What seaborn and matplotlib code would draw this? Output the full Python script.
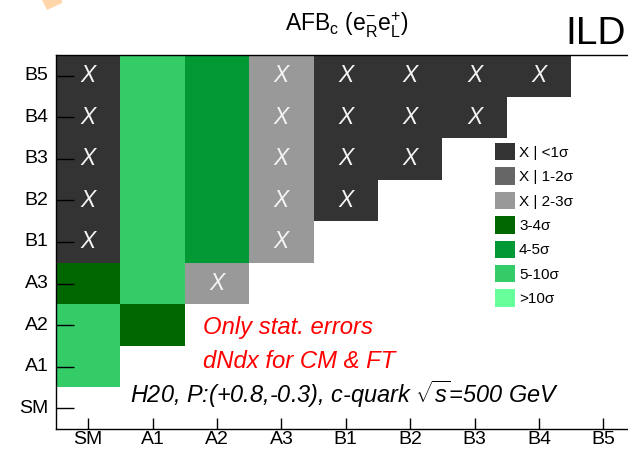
import numpy as np
import pandas as pd
import matplotlib
matplotlib.use("Agg")
import matplotlib.pyplot as plt
from matplotlib.colors import ListedColormap
from matplotlib.patches import Patch, Polygon
import seaborn as sns

# Models compared (columns) and tested against (rows, listed bottom to top)
x_labels = ["SM", "A1", "A2", "A3", "B1", "B2", "B3", "B4", "B5"]
y_labels = ["SM", "A1", "A2", "A3", "B1", "B2", "B3", "B4", "B5"]

# Separation classes and their colours
class_labels = ["X | <1σ", "X | 1-2σ", "X | 2-3σ", "3-4σ", "4-5σ", "5-10σ", ">10σ"]
class_colors = ["#333333", "#666666", "#999999", "#006600", "#009933", "#33cc66", "#66ff99"]
n_unresolved = 3  # the first classes cannot be separated -> "X"

# Separation class per row model, one entry per column model
sig_SM = []
sig_A1 = [5]
sig_A2 = [5, 3]
sig_A3 = [3, 5, 2]
sig_B1 = [0, 5, 4, 2]
sig_B2 = [0, 5, 4, 2, 0]
sig_B3 = [0, 5, 4, 2, 0, 0]
sig_B4 = [0, 5, 4, 2, 0, 0, 0]
sig_B5 = [0, 5, 4, 2, 0, 0, 0, 0]

rows = [sig_SM, sig_A1, sig_A2, sig_A3, sig_B1, sig_B2, sig_B3, sig_B4, sig_B5]

plt.rcParams["font.family"] = ["Liberation Sans", "DejaVu Sans"]
plt.rcParams["mathtext.fontset"] = "custom"
plt.rcParams["mathtext.rm"] = "Liberation Sans"
plt.rcParams["mathtext.it"] = "Liberation Sans:italic"

n = len(x_labels)
mat = np.full((n, n), np.nan)
for i, r in enumerate(rows):
    mat[i, :len(r)] = r
# heatmap draws the first row on top
mat = mat[::-1]
df = pd.DataFrame(mat, index=y_labels[::-1], columns=x_labels)
annot = np.where(np.nan_to_num(mat, nan=99) < n_unresolved, "X", "")

fig = plt.figure(figsize=(6.28, 4.5), dpi=100)
W, H = 628, 450
ax = fig.add_axes([56 / W, (H - 429) / H, 579.6 / W, (429 - 55) / H])

cmap = ListedColormap(class_colors)
sns.heatmap(df, ax=ax, cmap=cmap, vmin=-0.5, vmax=len(class_colors) - 0.5,
            cbar=False, annot=annot, fmt="", linewidths=0,
            annot_kws={"color": "#f4f4f4", "fontsize": 16.5, "fontstyle": "italic"})

for s in ["left", "bottom", "top", "right"]:
    ax.spines[s].set_visible(True)
    ax.spines[s].set_color("black")
    ax.spines[s].set_linewidth(1.0)

ax.set_xticklabels(x_labels, rotation=0)
ax.set_yticklabels(y_labels[::-1], rotation=0)
ax.tick_params(axis="x", direction="in", length=8, width=1, pad=1.5,
               labelsize=14, bottom=True, colors="black")
ax.tick_params(axis="y", direction="in", length=13, width=1, pad=5.5,
               labelsize=14, left=True, colors="black")
ax.set_xlabel("")
ax.set_ylabel("")

# legend of separation classes
handles = [Patch(facecolor=c, edgecolor="none", label=l)
           for c, l in zip(class_colors, class_labels)]
fs = 11
fpx = fs * 100 / 72
fig.legend(handles=handles, loc="upper left",
           bbox_to_anchor=(495 / W, 1 - 143 / H), bbox_transform=fig.transFigure,
           frameon=False, fontsize=fs, borderpad=0, borderaxespad=0,
           handlelength=20 / fpx, handleheight=21 / fpx,
           labelspacing=7 / fpx, handletextpad=4 / fpx)

# titles and annotations
fig.text(347 / W, 1 - 32 / H,
         r"AFB$_{\mathrm{c}}$ (e$_{\mathrm{R}}^{-}$e$_{\mathrm{L}}^{+}$)",
         ha="center", va="baseline", fontsize=16.5)
fig.text(626 / W, 1 - 44 / H, "ILD", ha="right", va="baseline", fontsize=28)
fig.text(203 / W, 1 - 334 / H, "Only stat. errors", color="red",
         fontstyle="italic", fontsize=17.2, ha="left", va="baseline")
fig.text(203 / W, 1 - 368 / H, "dNdx for CM & FT", color="red",
         fontstyle="italic", fontsize=17.2, ha="left", va="baseline")
fig.text(130 / W, 1 - 403 / H,
         r"H20, P:(+0.8,-0.3), c-quark $\sqrt{s}$=500 GeV",
         fontstyle="italic", fontsize=16.9, ha="left", va="baseline")

# corner stamp
fig.add_artist(Polygon([[42 / W, 1], [62 / W, 1], [62 / W, 1 - 3 / H], [47 / W, 1 - 10 / H]],
                       closed=True, transform=fig.transFigure,
                       facecolor="#ffd6aa", edgecolor="none"))

fig.savefig("out.png", dpi=100)
